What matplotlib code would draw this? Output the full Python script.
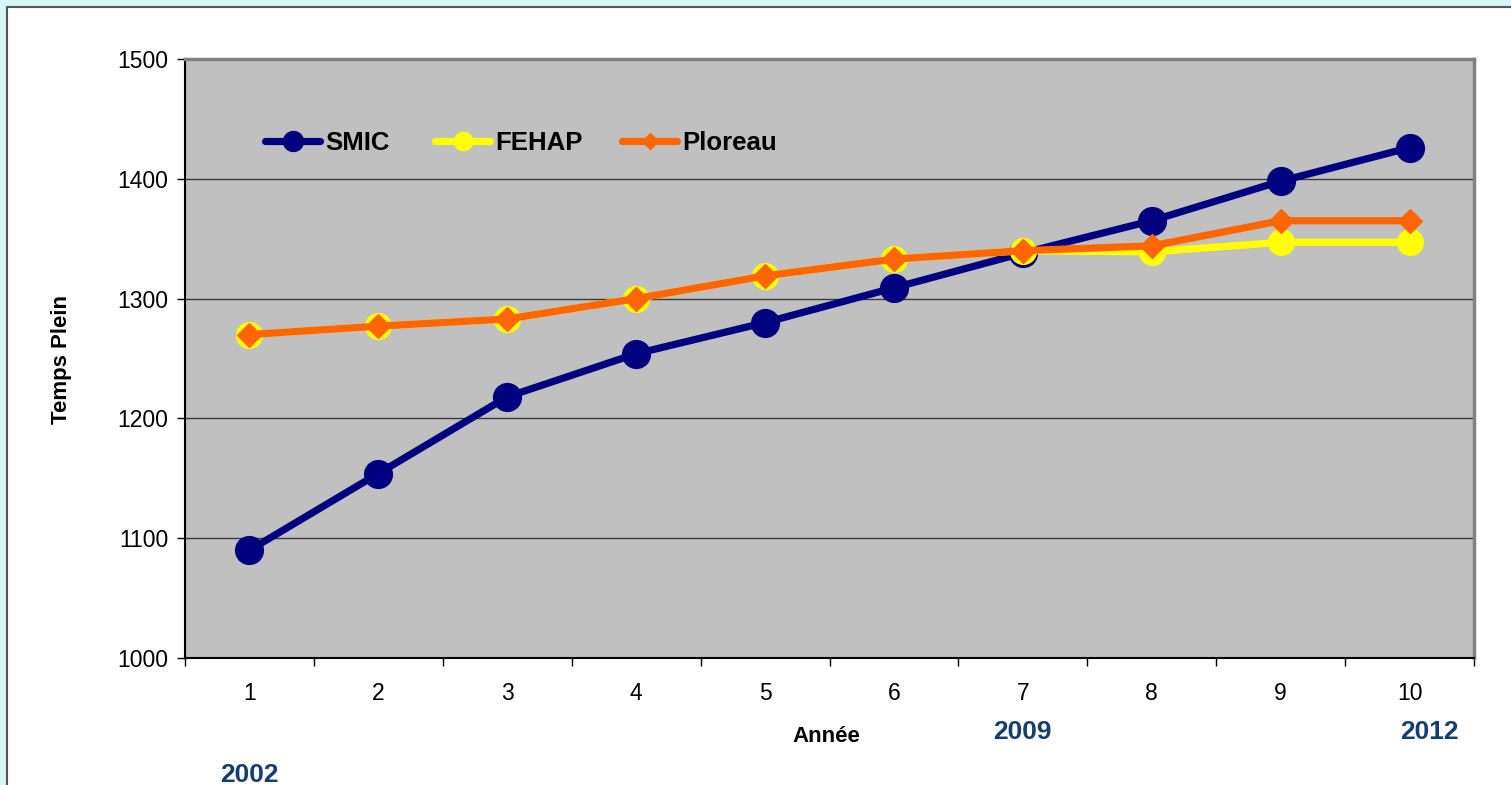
import matplotlib
matplotlib.use("Agg")
import matplotlib.pyplot as plt
from matplotlib.patches import Rectangle
from matplotlib.ticker import FixedLocator
from matplotlib import font_manager

years = [1, 2, 3, 4, 5, 6, 7, 8, 9, 10]
smic = [1090, 1154, 1218, 1254, 1280, 1309, 1338, 1365, 1398, 1426]
fehap = [1270, 1277, 1283, 1300, 1319, 1333, 1340, 1339, 1347, 1347]
ploreau = [1270, 1277, 1283, 1300, 1319, 1333, 1340, 1344, 1365, 1365]
note_labels = ["2002", "2009", "2012"]
note_x = [1, 7, 10.15]

W, H = 1511, 785
fig = plt.figure(figsize=(W / 100, H / 100), dpi=100)
fig.patch.set_facecolor("#d7f6f6")
bg = Rectangle((7 / W, -1), 3, 2 - 7 / H, transform=fig.transFigure,
               facecolor="white", edgecolor="#555555", linewidth=1.5, zorder=-10)
fig.patches.append(bg)

ax = fig.add_axes([185 / W, 1 - 658 / H, (1474 - 185) / W, (658 - 59) / H])
ax.set_zorder(1)
ax.set_facecolor("#c0c0c0")

l1, = ax.plot(years, smic, color="#000080", lw=5.2, marker="o", ms=20, label="SMIC", zorder=3,
              solid_capstyle="round")
l2, = ax.plot(years, fehap, color="#ffff00", lw=5.2, marker="o", ms=18.5, label="FEHAP", zorder=4,
              solid_capstyle="round")
l3, = ax.plot(years, ploreau, color="#ff6600", lw=5.2, marker="D", ms=12, label="Ploreau", zorder=5,
              solid_capstyle="round")

ax.set_xlim(0.5, 10.5)
ax.set_ylim(1000, 1500)
ax.set_yticks([1000, 1100, 1200, 1300, 1400, 1500])
ax.set_xticks(years)
ax.xaxis.set_minor_locator(FixedLocator([i + 0.5 for i in range(0, 11)]))
ax.tick_params(axis="x", which="major", length=0, pad=17, labelsize=16.5)
ax.tick_params(axis="x", which="minor", length=6, width=1, color="black")
ax.tick_params(axis="y", length=6, width=1, labelsize=16.5, pad=6)
for lab in ax.get_xticklabels() + ax.get_yticklabels():
    lab.set_family("Liberation Sans")

ax.grid(axis="y", color="#3a3a3a", lw=1)
ax.set_axisbelow(True)
for s in ("top", "right"):
    ax.spines[s].set_color("#808080")
    ax.spines[s].set_linewidth(2.5)
for s in ("left", "bottom"):
    ax.spines[s].set_color("black")
    ax.spines[s].set_linewidth(1.5)

# legend font: condensed if available
try:
    font_manager.findfont(font_manager.FontProperties(family="Liberation Sans Narrow", weight="bold"),
                          fallback_to_default=False)
    leg_family, leg_size = "Liberation Sans Narrow", 21
except Exception:
    leg_family, leg_size = "Liberation Sans", 18.5

handles = [l1, l2, l3]
leg_x = [265, 435, 622]
for i, (h, xp) in enumerate(zip(handles, leg_x)):
    lg = ax.legend([h], [h.get_label()], loc="center left",
                   bbox_to_anchor=((xp - 185) / (1474 - 185), 1 - (143 - 59) / (658 - 59)),
                   frameon=False, prop={"family": leg_family, "weight": "bold", "size": leg_size},
                   handlelength=55 / (leg_size * 100 / 72), handletextpad=5 / (leg_size * 100 / 72),
                   markerscale=0.72, borderpad=0, borderaxespad=0)
    if i < 2:
        ax.add_artist(lg)

fig.text(62 / W, 1 - 360 / H, "Temps Plein", rotation=90, ha="center", va="center",
         fontsize=16, fontweight="bold", family="Liberation Sans")
fig.text(826 / W, 1 - 737 / H, "Année", ha="center", va="center",
         fontsize=16, fontweight="bold", family="Liberation Sans")

note_ypix = [775, 732, 732]
for x, t, yp in zip(note_x, note_labels, note_ypix):
    xp = ax.transData.transform((x, 1000))[0]
    fig.text(xp / W, 1 - yp / H, t, ha="center", va="center", fontsize=19,
             fontweight="bold", color="#123f6e", family="Liberation Sans")

fig.savefig("out.png", dpi=100, facecolor=fig.get_facecolor())
